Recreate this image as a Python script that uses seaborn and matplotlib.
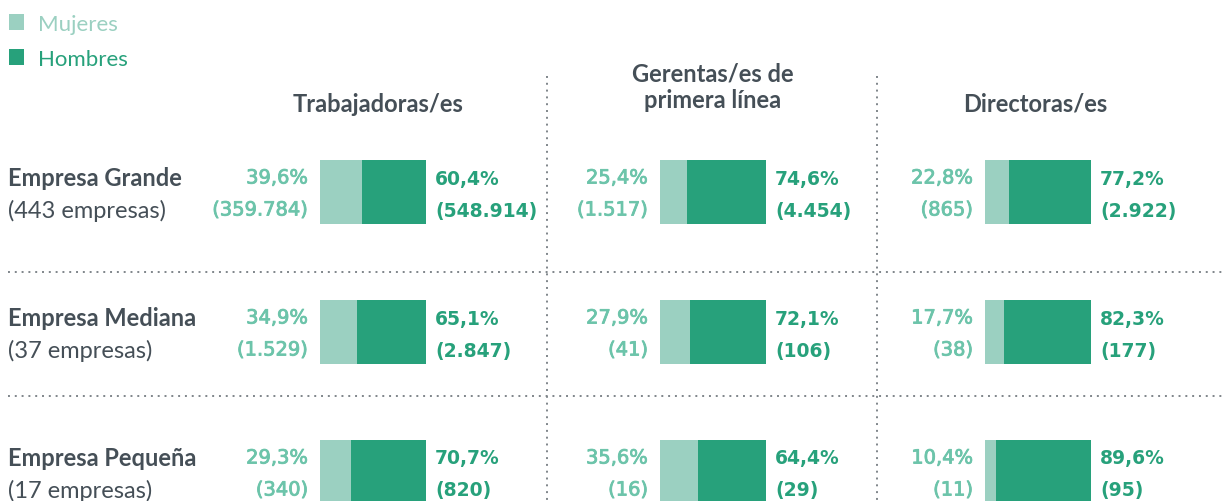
import numpy as np
import pandas as pd
import matplotlib
matplotlib.use("Agg")
import matplotlib.pyplot as plt
from matplotlib.lines import Line2D
from matplotlib.patches import Patch
import matplotlib.patheffects as pe
import seaborn as sns

# ---------------- data ----------------
empresas = ["Empresa Grande", "Empresa Mediana", "Empresa Pequeña"]
empresas_n = ["(443 empresas)", "(37 empresas)", "(17 empresas)"]
paneles = ["Trabajadoras/es", "Gerentas/es de\nprimera línea", "Directoras/es"]

trab_muj_pct = [39.6, 34.9, 29.3]
trab_hom_pct = [60.4, 65.1, 70.7]
trab_muj_n = [359784, 1529, 340]
trab_hom_n = [548914, 2847, 820]

ger_muj_pct = [25.4, 27.9, 35.6]
ger_hom_pct = [74.6, 72.1, 64.4]
ger_muj_n = [1517, 41, 16]
ger_hom_n = [4454, 106, 29]

dir_muj_pct = [22.8, 17.7, 10.4]
dir_hom_pct = [77.2, 82.3, 89.6]
dir_muj_n = [865, 38, 11]
dir_hom_n = [2922, 177, 95]

legend_labels = ["Mujeres", "Hombres"]

# ---------------- styling ----------------
sns.set_theme(style="white")
plt.rcParams["font.family"] = ["Lato", "DejaVu Sans"]

C_LIGHT = "#9BD0C1"
C_DARK = "#27A17B"
T_LIGHT = "#6CC4AA"
T_DARK = "#27A17B"
T_GRAY = "#454F57"
NUM_FONT = ["DejaVu Sans"]
thicken = [pe.withStroke(linewidth=0.6, foreground=T_LIGHT)]

W, H = 1225, 502
fig = plt.figure(figsize=(W / 100, H / 100), dpi=100)

def fmt_pct(v):
    return f"{v:.1f}%".replace(".", ",")

def fmt_n(v):
    return "(" + f"{v:,}".replace(",", ".") + ")"

panel_data = [
    (trab_muj_pct, trab_hom_pct, trab_muj_n, trab_hom_n),
    (ger_muj_pct, ger_hom_pct, ger_muj_n, ger_hom_n),
    (dir_muj_pct, dir_hom_pct, dir_muj_n, dir_hom_n),
]

# pixel layout
bar_left = [320, 660, 985]
bar_w = 106
row_top_px = 123          # top of axis (row 0 center at 193)
row_step = 140
header_x = [378, 713, 1035]

axes = []
for i, (mp, hp, mn, hn) in enumerate(panel_data):
    top = row_top_px
    bottom = top + 3 * row_step
    ax = fig.add_axes([bar_left[i] / W, (H - bottom) / H, bar_w / W, 3 * row_step / H])
    df = pd.DataFrame({
        "empresa": empresas,
        "total": np.array(mp) + np.array(hp),
        "mujeres": mp,
    })
    sns.barplot(data=df, y="empresa", x="total", orient="h", order=empresas,
                color=C_DARK, saturation=1, width=0.46, ax=ax, linewidth=0)
    sns.barplot(data=df, y="empresa", x="mujeres", orient="h", order=empresas,
                color=C_LIGHT, saturation=1, width=0.46, ax=ax, linewidth=0)
    ax.set_xlim(0, 100)
    ax.set_ylim(2.5, -0.5)
    ax.axis("off")
    for r in range(3):
        total = mp[r] + hp[r]
        ax.annotate(fmt_pct(mp[r]), xy=(0, r), xytext=(-12, 14), textcoords="offset pixels",
                    ha="right", va="center", color=T_LIGHT, fontsize=14,
                    family=NUM_FONT, annotation_clip=False, path_effects=thicken)
        ax.annotate(fmt_n(mn[r]), xy=(0, r), xytext=(-12, -18), textcoords="offset pixels",
                    ha="right", va="center", color=T_LIGHT, fontsize=14,
                    family=NUM_FONT, annotation_clip=False, path_effects=thicken)
        ax.annotate(fmt_pct(hp[r]), xy=(total, r), xytext=(9, 14), textcoords="offset pixels",
                    ha="left", va="center", color=T_DARK, fontsize=13.5, fontweight="bold",
                    family=NUM_FONT, annotation_clip=False)
        ax.annotate(fmt_n(hn[r]), xy=(total, r), xytext=(9, -18), textcoords="offset pixels",
                    ha="left", va="center", color=T_DARK, fontsize=13.5, fontweight="bold",
                    family=NUM_FONT, annotation_clip=False)
    axes.append(ax)

# headers
for i, title in enumerate(paneles):
    y = 104 if "\n" not in title else 87
    fig.text(header_x[i] / W, (H - y) / H, title, ha="center", va="center",
             fontsize=17, fontweight="bold", color=T_GRAY, linespacing=1.2)

# row labels
ax0 = axes[0]
for r in range(3):
    ax0.annotate(empresas[r], xy=(8, r), xycoords=("figure pixels", "data"),
                 xytext=(0, 14), textcoords="offset pixels", ha="left", va="center",
                 fontsize=17, fontweight="bold", color=T_GRAY, annotation_clip=False)
    ax0.annotate(empresas_n[r], xy=(8, r), xycoords=("figure pixels", "data"),
                 xytext=(0, -18), textcoords="offset pixels", ha="left", va="center",
                 fontsize=17, color=T_GRAY, annotation_clip=False)

# dotted separators
dot = dict(color="#7F858A", linestyle=(0, (1, 2.5)), linewidth=1.4)
for yp in (273, 397):
    fig.add_artist(Line2D([8 / W, 1], [(H - yp) / H] * 2, transform=fig.transFigure, **dot))
for xp in (547, 877):
    fig.add_artist(Line2D([xp / W] * 2, [(H - 77) / H, 0], transform=fig.transFigure, **dot))

# legend
handles = [Patch(facecolor=C_LIGHT, edgecolor="none"), Patch(facecolor=C_DARK, edgecolor="none")]
leg = fig.legend(handles, legend_labels, loc="upper left", bbox_to_anchor=(0.0, 1.0 - 6 / H),
                 frameon=False, fontsize=16, handlelength=0.7, handleheight=0.7,
                 handletextpad=0.6, labelspacing=0.66, borderaxespad=0.2, borderpad=0.2)
leg.get_texts()[0].set_color("#9BD0C1")
leg.get_texts()[1].set_color(T_DARK)

fig.savefig("out.png", dpi=100)
